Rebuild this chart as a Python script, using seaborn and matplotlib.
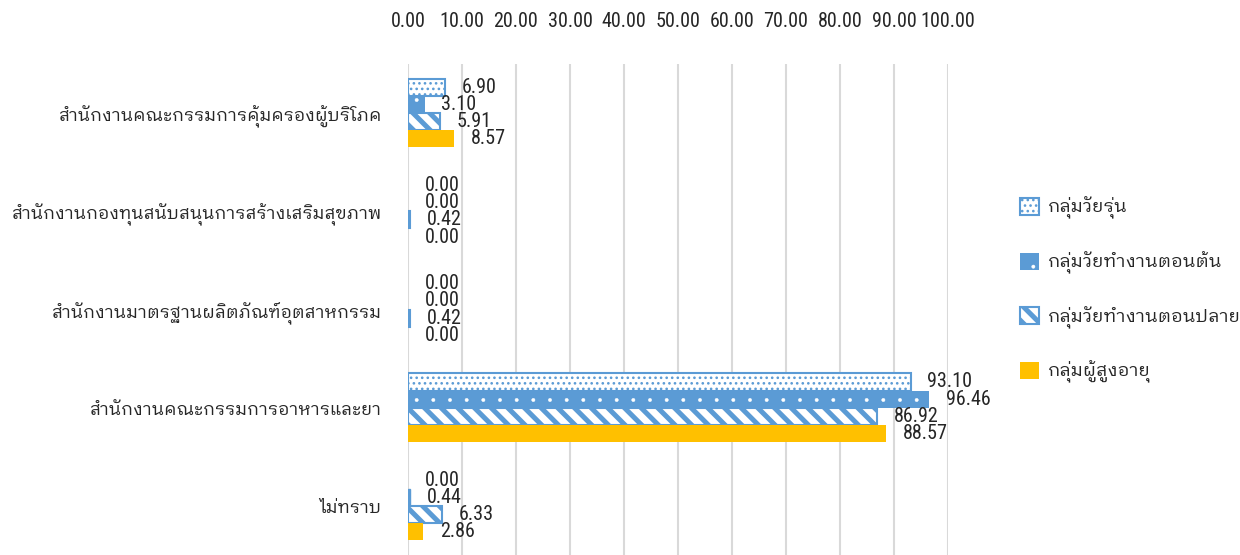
import matplotlib
matplotlib.use("Agg")
import matplotlib as mpl
import matplotlib.pyplot as plt
from matplotlib import font_manager
from matplotlib.font_manager import FontProperties
from matplotlib.ft2font import FT2Font
import seaborn as sns
import pandas as pd
import numpy as np

# ---------------- data ----------------
categories = [
    "สำนักงานคณะกรรมการคุ้มครองผู้บริโภค",
    "สำนักงานกองทุนสนับสนุนการสร้างเสริมสุขภาพ",
    "สำนักงานมาตรฐานผลิตภัณฑ์อุตสาหกรรม",
    "สำนักงานคณะกรรมการอาหารและยา",
    "ไม่ทราบ",
]
series_names = [
    "กลุ่มวัยรุ่น",
    "กลุ่มวัยทำงานตอนต้น",
    "กลุ่มวัยทำงานตอนปลาย",
    "กลุ่มผู้สูงอายุ",
]
teen = [6.90, 0.00, 0.00, 93.10, 0.00]
early_work = [3.10, 0.00, 0.00, 96.46, 0.44]
late_work = [5.91, 0.42, 0.42, 86.92, 6.33]
elderly = [8.57, 0.00, 0.00, 88.57, 2.86]
x_ticks = [0, 10, 20, 30, 40, 50, 60, 70, 80, 90, 100]

# ---------------- fonts ----------------
def find_fonts():
    thai, cond = [], []
    for f in font_manager.fontManager.ttflist:
        try:
            cm = FT2Font(f.fname).get_charmap()
        except Exception:
            cm = {}
        if 0x0E01 in cm and 0x0E33 in cm:
            thai.append(f.name)
        is_cond = (str(f.stretch) in ("condensed", "semi-condensed", "extra-condensed")
                   or "Narrow" in f.name or "Condensed" in f.name
                   or "Narrow" in f.fname or "Condensed" in f.fname)
        if is_cond and f.style == "normal" and f.weight in (400, "normal", "regular", "book"):
            cond.append(f)
    thai = sorted(set(thai), key=lambda n: (0 if "Thai" in n else 1, 0 if "Looped" in n else 1, n))
    pref = ["Liberation Sans Narrow", "Roboto Condensed", "Open Sans Condensed",
            "Noto Sans", "Open Sans", "Roboto", "DejaVu Sans"]
    cond.sort(key=lambda f: next((i for i, p in enumerate(pref) if f.name.startswith(p)), 99))
    return thai, cond

thai_fonts, cond_fonts = find_fonts()
thai_font = thai_fonts[0] if thai_fonts else "DejaVu Sans"
if cond_fonts:
    num_prop = lambda size: FontProperties(fname=cond_fonts[0].fname, size=size)
    num_size = 14.5
else:
    num_prop = lambda size: FontProperties(family="Liberation Sans", size=size)
    num_size = 12

sns.set_theme(style="white")
plt.rcParams["font.family"] = [thai_font, "DejaVu Sans"]
plt.rcParams["hatch.linewidth"] = 1.0

blue = "#5B9BD5"
yellow = "#FFC000"
grid_col = "#D9D9D9"
text_col = "#262626"
thai_size = 12.8
legend_size = 13.2


def set_hlw(p, lw):
    if hasattr(p, "set_hatch_linewidth"):
        p.set_hatch_linewidth(lw)
    if hasattr(p, "_hatch_linewidth"):
        p._hatch_linewidth = lw
    orig = p.draw

    def draw(renderer, _orig=orig, _lw=lw):
        with mpl.rc_context({"hatch.linewidth": _lw}):
            _orig(renderer)
    p.draw = draw


df = pd.DataFrame({
    "category": categories * 4,
    "series": np.repeat(series_names, len(categories)),
    "value": teen + early_work + late_work + elderly,
})

fig = plt.figure(figsize=(12.4, 5.55), dpi=100)
ax = fig.add_axes([408 / 1240, 0.0, (948 - 408) / 1240, 1 - 64 / 555])

sns.barplot(data=df, y="category", x="value", hue="series", order=categories,
            hue_order=series_names, orient="h", width=0.7, saturation=1,
            palette=[blue, blue, blue, yellow], errorbar=None, legend=False, ax=ax)

styles = [
    dict(fc="white", ec=blue, hatch="...", lw=1.5, hlw=1.1),
    dict(fc=blue, ec="white", hatch=".", lw=0.0, hlw=0.3),
    dict(fc="white", ec=blue, hatch="\\\\", lw=1.5, hlw=3.6),
    dict(fc=yellow, ec=yellow, hatch=None, lw=0.0, hlw=1.0),
]


def style_patch(p, st):
    p.set_facecolor(st["fc"])
    p.set_edgecolor(st["ec"])
    p.set_linewidth(st["lw"])
    if st["hatch"]:
        p.set_hatch(st["hatch"])
        if hasattr(p, "set_hatchcolor"):
            p.set_hatchcolor(st["ec"])
        set_hlw(p, st["hlw"])


for cont, st in zip(ax.containers, styles):
    for p in cont.patches:
        style_patch(p, st)
        w = p.get_width()
        if w == 0:
            p.set_visible(False)
        elif w < 1 and st["fc"] == blue:
            p.set_edgecolor(blue)
            p.set_linewidth(1.0)
        ax.annotate(f"{w:.2f}", (w, p.get_y() + p.get_height() / 2),
                    xytext=(12, 0), textcoords="offset points",
                    ha="left", va="center", color=text_col,
                    fontproperties=num_prop(num_size))

ax.set_xlim(0, 100)
ax.set_xticks(x_ticks)
ax.set_xticklabels([f"{t:.2f}" for t in x_ticks], color=text_col,
                   fontproperties=num_prop(num_size))
ax.xaxis.tick_top()
ax.tick_params(axis="x", length=0, pad=24)
ax.tick_params(axis="y", length=0, pad=19)
ax.set_yticklabels(categories, fontsize=thai_size, color=text_col,
                   family=[thai_font, "DejaVu Sans"])
ax.set_xlabel("")
ax.set_ylabel("")
ax.grid(axis="x", color=grid_col, linewidth=1.5)
ax.set_axisbelow(True)
for s in ax.spines.values():
    s.set_visible(False)

handles = [plt.Rectangle((0, 0), 1, 1) for _ in styles]
for h, st in zip(handles, styles):
    style_patch(h, st)
leg = fig.legend(handles, series_names, loc="center left",
                 bbox_to_anchor=(1020 / 1240, 1 - 290 / 555), frameon=False,
                 prop={"family": [thai_font, "DejaVu Sans"], "size": legend_size},
                 handlelength=1.05, handleheight=1.05, labelspacing=1.75,
                 handletextpad=0.45, borderpad=0, borderaxespad=0, labelcolor=text_col)
for p, st in zip(leg.get_patches(), styles):
    style_patch(p, st)

fig.savefig("out.png", dpi=100)
